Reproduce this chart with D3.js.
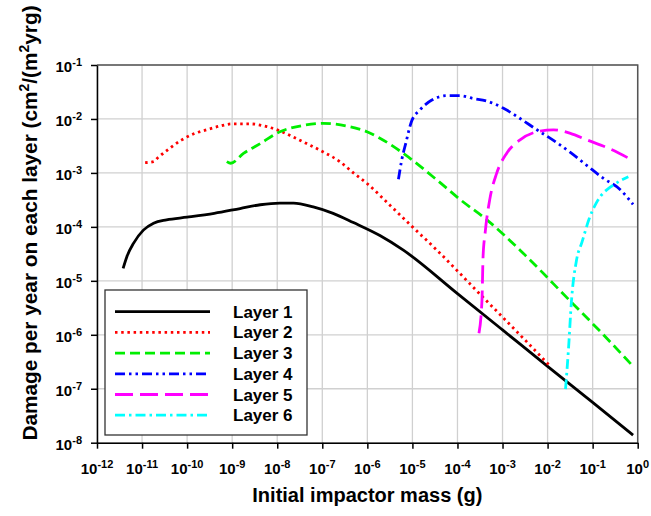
<!DOCTYPE html>
<html>
<head>
<meta charset="utf-8">
<script src="https://cdn.jsdelivr.net/npm/d3@7"></script>
<style>
  body { margin: 0; background: #fff; }
  svg { font-family: Arial, "Liberation Sans", sans-serif; font-weight: bold; }
</style>
</head>
<body>
<svg id="chart" width="651" height="516"></svg>
<script>
// values (mass in g, damage in cm2/(m2 yr g))
var layerNames = ['Layer 1', 'Layer 2', 'Layer 3', 'Layer 4', 'Layer 5', 'Layer 6'];

var mass1 = [3.8e-12, 4.6e-12, 6.5e-12, 1.07e-11, 1.8e-11, 3.5e-11, 1e-10, 4.0e-10, 1.5e-9, 4.2e-9, 1.15e-8,
    2.3e-8, 6.3e-8, 1.74e-7, 4.9e-7, 1.9e-6, 6.3e-6, 1e-4, 1e-3, 1e-2, 1e-1, 0.79];
var damage1 = [1.7e-5, 2.8e-5, 5.0e-5, 8.7e-5, 1.17e-4, 1.35e-4, 1.51e-4, 1.78e-4, 2.19e-4, 2.57e-4, 2.75e-4,
    2.75e-4, 2.34e-4, 1.78e-4, 1.2e-4, 6.9e-5, 3.7e-5, 5.8e-6, 1.23e-6, 2.6e-7, 5.6e-8, 1.38e-8];

var mass2 = [1.17e-11, 1.8e-11, 2.3e-11, 4.2e-11, 7.6e-11, 1.48e-10, 2.7e-10, 5.4e-10, 9.8e-10, 2.5e-9, 5.9e-9,
    1.15e-8, 2.3e-8, 4.5e-8, 1.05e-7, 2.45e-7, 4.9e-7, 1e-6, 3.2e-6, 1e-5, 3.5e-5, 3.2e-4, 3.2e-3, 1.1e-2];
var damage2 = [1.55e-3, 1.62e-3, 1.95e-3, 2.9e-3, 4.1e-3, 5.4e-3, 6.3e-3, 7.4e-3, 8.1e-3, 8.1e-3, 7.2e-3,
    6.0e-3, 4.6e-3, 3.5e-3, 2.45e-3, 1.62e-3, 1.0e-3, 6.3e-4, 2.5e-4, 1.0e-4, 3.7e-5, 5.6e-6, 7.9e-7, 2.7e-7];

var mass3 = [7.6e-10, 9.3e-10, 1.78e-9, 4.2e-9, 1.15e-8, 3.2e-8, 1.05e-7, 3.5e-7, 9.8e-7, 1.9e-6, 6.3e-6,
    3.5e-5, 1.15e-4, 4.5e-4, 2.45e-3, 3.2e-2, 0.174, 0.79];
var damage3 = [1.62e-3, 1.51e-3, 2.3e-3, 3.5e-3, 5.8e-3, 7.4e-3, 8.3e-3, 7.4e-3, 5.8e-3, 4.4e-3, 2.3e-3,
    7.4e-4, 3.2e-4, 1.35e-4, 3.7e-5, 4.2e-6, 1e-6, 2.6e-7];

var mass4 = [4.9e-6, 5.8e-6, 7.1e-6, 9.5e-6, 1.48e-5, 2.7e-5, 5.8e-5, 1.15e-4, 2.2e-4, 4.5e-4, 1.05e-3,
    2.45e-3, 5.8e-3, 1.35e-2, 3.2e-2, 7.4e-2, 0.174, 0.4, 0.79];
var damage4 = [7.6e-4, 1.74e-3, 3.5e-3, 8.9e-3, 1.48e-2, 2.24e-2, 2.7e-2, 2.7e-2, 2.4e-2, 2.14e-2, 1.58e-2,
    1.02e-2, 6.3e-3, 4.0e-3, 2.4e-3, 1.38e-3, 7.9e-4, 5.0e-4, 2.6e-4];

var mass5 = [3.0e-4, 3.5e-4, 3.7e-4, 4.1e-4, 5.2e-4, 7.4e-4, 1.23e-3, 2.45e-3, 5.8e-3, 1.35e-2, 3.2e-2,
    7.4e-2, 0.24, 0.74];
var damage5 = [1.07e-6, 4.4e-6, 2.8e-5, 7.6e-5, 3.2e-4, 9.8e-4, 2.3e-3, 4.1e-3, 5.8e-3, 6.3e-3, 5.4e-3,
    4.1e-3, 2.8e-3, 1.74e-3];

var mass6 = [2.5e-2, 2.9e-2, 3.4e-2, 4.4e-2, 5.8e-2, 8.3e-2, 0.12, 0.158, 0.25, 0.4, 0.62];
var damage6 = [9.8e-8, 5.2e-7, 4.4e-6, 2.45e-5, 5.2e-5, 1.38e-4, 2.75e-4, 3.9e-4, 5.5e-4, 7.1e-4, 8.5e-4];

var xTickExps = [-12, -11, -10, -9, -8, -7, -6, -5, -4, -3, -2, -1, 0];
var yTickExps = [-8, -7, -6, -5, -4, -3, -2, -1];

var xTitle = 'Initial impactor mass (g)';

$chart();

function $chart() {
    var svg = d3.select('#chart'),
        left = 97, right = 637.7, top = 65, bottom = 442.7;

    var x = d3.scaleLog().domain([1e-12, 1]).range([left, right]),
        y = d3.scaleLog().domain([1e-8, 1e-1]).range([bottom, top]);

    // layer styles: colour, dash pattern
    var styles = [
        {color: '#000000', dash: null},
        {color: '#ff0000', dash: '2.5,3.7'},
        {color: '#00ee00', dash: '10,5'},
        {color: '#0000ff', dash: '10,4,2.5,4,2.5,4'},
        {color: '#ff00ff', dash: '18,7'},
        {color: '#00ffff', dash: '10,4,2.5,4'}
    ];
    var masses = [mass1, mass2, mass3, mass4, mass5, mass6],
        damages = [damage1, damage2, damage3, damage4, damage5, damage6];

    // grid
    var grid = svg.append('g').attr('stroke', '#d0d0d0').attr('stroke-width', 1.3);
    xTickExps.forEach(function (e) {
        grid.append('line').attr('x1', x(Math.pow(10, e))).attr('x2', x(Math.pow(10, e)))
            .attr('y1', top).attr('y2', bottom);
    });
    yTickExps.forEach(function (e) {
        grid.append('line').attr('y1', y(Math.pow(10, e))).attr('y2', y(Math.pow(10, e)))
            .attr('x1', left).attr('x2', right);
    });

    // frame top/right
    svg.append('path')
        .attr('d', 'M' + left + ',' + top + 'H' + right + 'V' + bottom)
        .attr('fill', 'none').attr('stroke', '#555').attr('stroke-width', 1.5);

    // axes
    var xAxis = d3.axisBottom(x).tickValues(xTickExps.map(function (e) { return Math.pow(10, e); }))
        .tickFormat('').tickSize(6).tickSizeOuter(0);
    var yAxis = d3.axisLeft(y).tickValues(yTickExps.map(function (e) { return Math.pow(10, e); }))
        .tickFormat('').tickSize(6).tickSizeOuter(0);

    svg.append('g').attr('transform', 'translate(0,' + bottom + ')').call(xAxis)
        .selectAll('line, path').attr('stroke', '#000').attr('stroke-width', 1.5);
    svg.append('g').attr('transform', 'translate(' + left + ',0)').call(yAxis)
        .selectAll('line, path').attr('stroke', '#000').attr('stroke-width', 1.5);

    // tick labels with superscript exponents
    xTickExps.forEach(function (e) {
        var t = svg.append('text')
            .attr('x', x(Math.pow(10, e)))
            .attr('y', 474)
            .attr('text-anchor', 'middle')
            .attr('font-size', 15);
        t.append('tspan').text('10');
        t.append('tspan').attr('font-size', 11).attr('dy', -6).text(e === 0 ? '0' : '-' + (-e));
    });
    yTickExps.forEach(function (e) {
        var t = svg.append('text')
            .attr('x', 82)
            .attr('y', y(Math.pow(10, e)) + 7)
            .attr('text-anchor', 'end')
            .attr('font-size', 15);
        t.append('tspan').text('10');
        t.append('tspan').attr('font-size', 11).attr('dy', -6).text('-' + (-e));
    });

    // axis titles
    svg.append('text')
        .attr('x', (left + right) / 2).attr('y', 502)
        .attr('text-anchor', 'middle').attr('font-size', 20)
        .text(xTitle);

    var yt = svg.append('text')
        .attr('transform', 'translate(37,223) rotate(-90)')
        .attr('text-anchor', 'middle').attr('font-size', 20.8);
    yt.append('tspan').text('Damage per year on each layer (cm');
    yt.append('tspan').attr('font-size', 14).attr('dy', -8).text('2');
    yt.append('tspan').attr('dy', 8).text('/(m');
    yt.append('tspan').attr('font-size', 14).attr('dy', -8).text('2');
    yt.append('tspan').attr('dy', 8).text('yrg)');

    // curves
    var line = d3.line()
        .x(function (d) { return x(d[0]); })
        .y(function (d) { return y(d[1]); })
        .curve(d3.curveMonotoneX);

    masses.forEach(function (m, i) {
        var pts = m.map(function (v, j) { return [v, damages[i][j]]; });
        svg.append('path')
            .attr('d', line(pts))
            .attr('fill', 'none')
            .attr('stroke', styles[i].color)
            .attr('stroke-width', 2.8)
            .attr('stroke-dasharray', styles[i].dash);
    });

    // legend
    var lg = svg.append('g');
    lg.append('rect')
        .attr('x', 105).attr('y', 290).attr('width', 202).attr('height', 145)
        .attr('fill', '#fff').attr('stroke', '#333').attr('stroke-width', 1.3);

    layerNames.forEach(function (name, i) {
        var ly = 311.7 + i * 20.7;
        lg.append('line')
            .attr('x1', 115).attr('x2', 210).attr('y1', ly).attr('y2', ly)
            .attr('stroke', styles[i].color).attr('stroke-width', 2.8)
            .attr('stroke-dasharray', styles[i].dash);
        lg.append('text')
            .attr('x', 233).attr('y', ly + 6)
            .attr('font-size', 17)
            .text(name);
    });
}
</script>
</body>
</html>
